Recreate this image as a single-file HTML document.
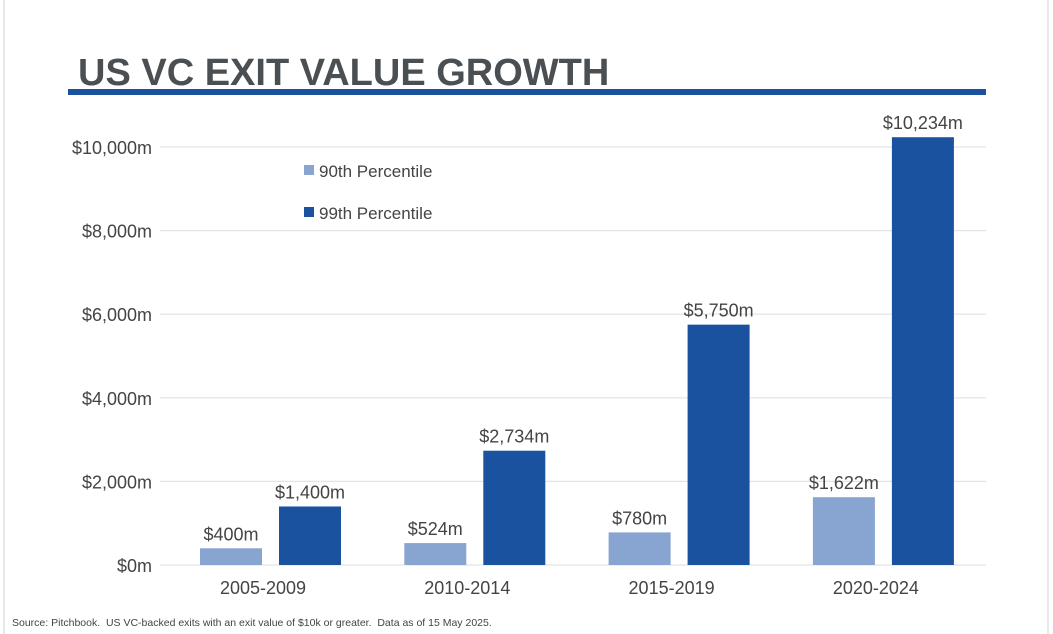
<!DOCTYPE html>
<html><head><meta charset="utf-8"><style>
body{margin:0;background:#fff;}
#wrap{position:relative;width:1053px;height:634px;overflow:hidden;font-family:"Liberation Sans",sans-serif;}
</style></head><body>
<div id="wrap">
<svg width="1053" height="634">
<rect x="4" y="-2" width="1044" height="640" fill="#fff" stroke="#e2e2e2" stroke-width="1.5"/>
<text x="78" y="85" font-size="38" font-weight="bold" fill="#4a4f54">US VC EXIT VALUE GROWTH</text>
<rect x="68" y="89" width="918" height="6" fill="#1a52a0"/>
<g id="grid"></g><g id="bars"></g>
<rect x="304" y="165" width="10" height="10" fill="#88a4d0"/>
<text x="319" y="177" font-size="17" fill="#444">90th Percentile</text>
<rect x="304" y="207" width="10" height="10" fill="#1a52a0"/>
<text x="319" y="219" font-size="17" fill="#444">99th Percentile</text>
<text x="12" y="626" font-size="10.5" fill="#444" xml:space="preserve">Source: Pitchbook.  US VC-backed exits with an exit value of $10k or greater.  Data as of 15 May 2025.</text>
</svg>
</div>
<script>
const categories=["2005-2009","2010-2014","2015-2019","2020-2024"];
const p90=[400,524,780,1622];
const p99=[1400,2734,5750,10234];
const ticks=[0,2000,4000,6000,8000,10000];
const NS="http://www.w3.org/2000/svg";
const x0=160,x1=986,y0=565,yTop=147;
const band=204.3,firstCenter=263;
function y(v){return y0-(v/10000)*(y0-yTop);}
function cx(i){return firstCenter+band*i;}
function fmt(v){return "$"+v.toLocaleString("en-US")+"m";}
function mk(tag,attrs,parent,txt){const e=document.createElementNS(NS,tag);for(const k in attrs)e.setAttribute(k,attrs[k]);if(txt!==undefined)e.textContent=txt;parent.appendChild(e);return e;}
const grid=document.getElementById("grid"),bars=document.getElementById("bars");
ticks.forEach(t=>{
  const l=mk("line",{x1:x0,x2:x1,y1:y(t),y2:y(t),stroke:"#e3e3e3","stroke-width":1.2},grid);
  
  
  const tx=mk("text",{x:152,y:y(t)+7,"text-anchor":"end","font-size":18,fill:"#444"},grid,fmt(t));
  
  
});
categories.forEach((c,i)=>{
  const c0=cx(i);
  [[p90[i],c0-63,"#88a4d0","bar-90th"],[p99[i],c0+16,"#1a52a0","bar-99th"]].forEach(([v,bx,col,nm])=>{
    const r=mk("rect",{x:bx,y:y(v),width:62,height:y0-y(v),fill:col},bars);
    
    
    const t=mk("text",{x:bx+31,y:y(v)-8,"text-anchor":"middle","font-size":18,fill:"#444"},bars,fmt(v));
    
    
  });
  const xl=mk("text",{x:c0,y:594,"text-anchor":"middle","font-size":18,fill:"#444"},bars,c);
  
  
});
</script>
</body></html>
